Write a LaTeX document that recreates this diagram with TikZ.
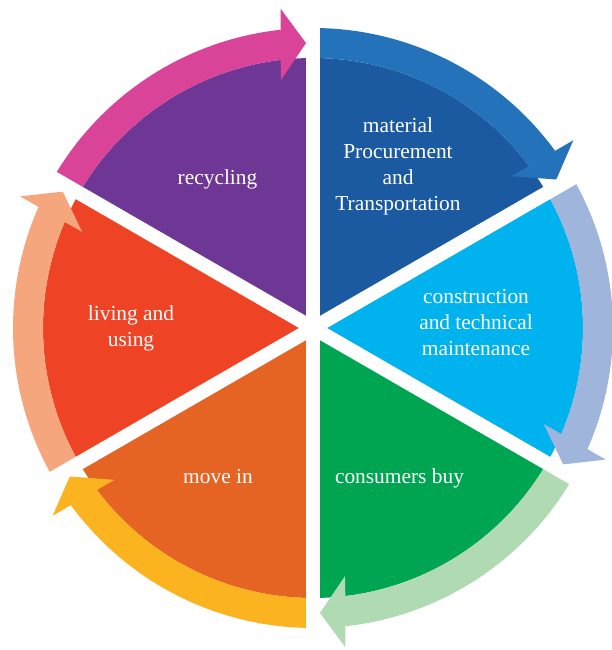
\documentclass[tikz,border=0pt]{standalone}
\usepackage{fontspec}
\setmainfont{Liberation Serif}
\definecolor{wpurple}{HTML}{6E3795}
\definecolor{bpink}{HTML}{D94499}
\definecolor{wdblue}{HTML}{1B5AA0}
\definecolor{bblue}{HTML}{2473BA}
\definecolor{wcyan}{HTML}{00B2ED}
\definecolor{bsteel}{HTML}{9FB5DB}
\definecolor{wgreen}{HTML}{00A551}
\definecolor{blgreen}{HTML}{B0DAB2}
\definecolor{worange}{HTML}{E66423}
\definecolor{byellow}{HTML}{FBB41F}
\definecolor{wred}{HTML}{EF4325}
\definecolor{bpeach}{HTML}{F6A67D}
\begin{document}
\begin{tikzpicture}[x=1pt,y=1pt,
  lblone/.style={text=white,font=\fontsize{21.4}{26}\selectfont,inner sep=0pt},
  lblmulti/.style={lblone,align=center},
  gapline/.style={white,line width=14pt}]
\useasboundingbox (-313,-322) rectangle (298,328);
% wedges
\foreach \a/\c in {150/wpurple,90/wdblue,30/wcyan,-30/wgreen,-90/worange,-150/wred}{
  \fill[\c] (0,0) -- (\a:270) arc[start angle=\a, end angle=\a-60, radius=270] -- cycle;
}
% arrow bands with heads
\foreach \a/\c in {150/bpink,90/bblue,30/bsteel,-30/blgreen,-90/byellow,-150/bpeach}{
  \pgfmathsetmacro{\e}{\a-60+6.2}
  \fill[\c] (\a:300) arc[start angle=\a, end angle=\e, radius=300]
     -- (\e:270) arc[start angle=\e, end angle=\a, radius=270] -- cycle;
  \fill[\c] ({\a-60+5.8}:321) -- ({\a-60+1.4}:285) -- ({\a-60+7.4}:250) -- cycle;
}
% white gaps
\foreach \a in {90,30,-30,-90,-150,150}{
  \draw[gapline] (0,0) -- (\a:340);
}
% labels
\node[lblone,anchor=base] (recycling) at (-95.5,143.5) {recycling};
\node[lblmulti] (material) at (85,162) {material\\Procurement\\and\\Transportation};
\node[lblmulti] (construction) at (163,5) {construction\\and technical\\maintenance};
\node[lblone,anchor=base] (consumers) at (86.5,-155) {consumers buy};
\node[lblone,anchor=base] (movein) at (-95,-155) {move in};
\node[lblmulti] (living) at (-182,-0.5) {living and\\using};
\end{tikzpicture}
\end{document}
